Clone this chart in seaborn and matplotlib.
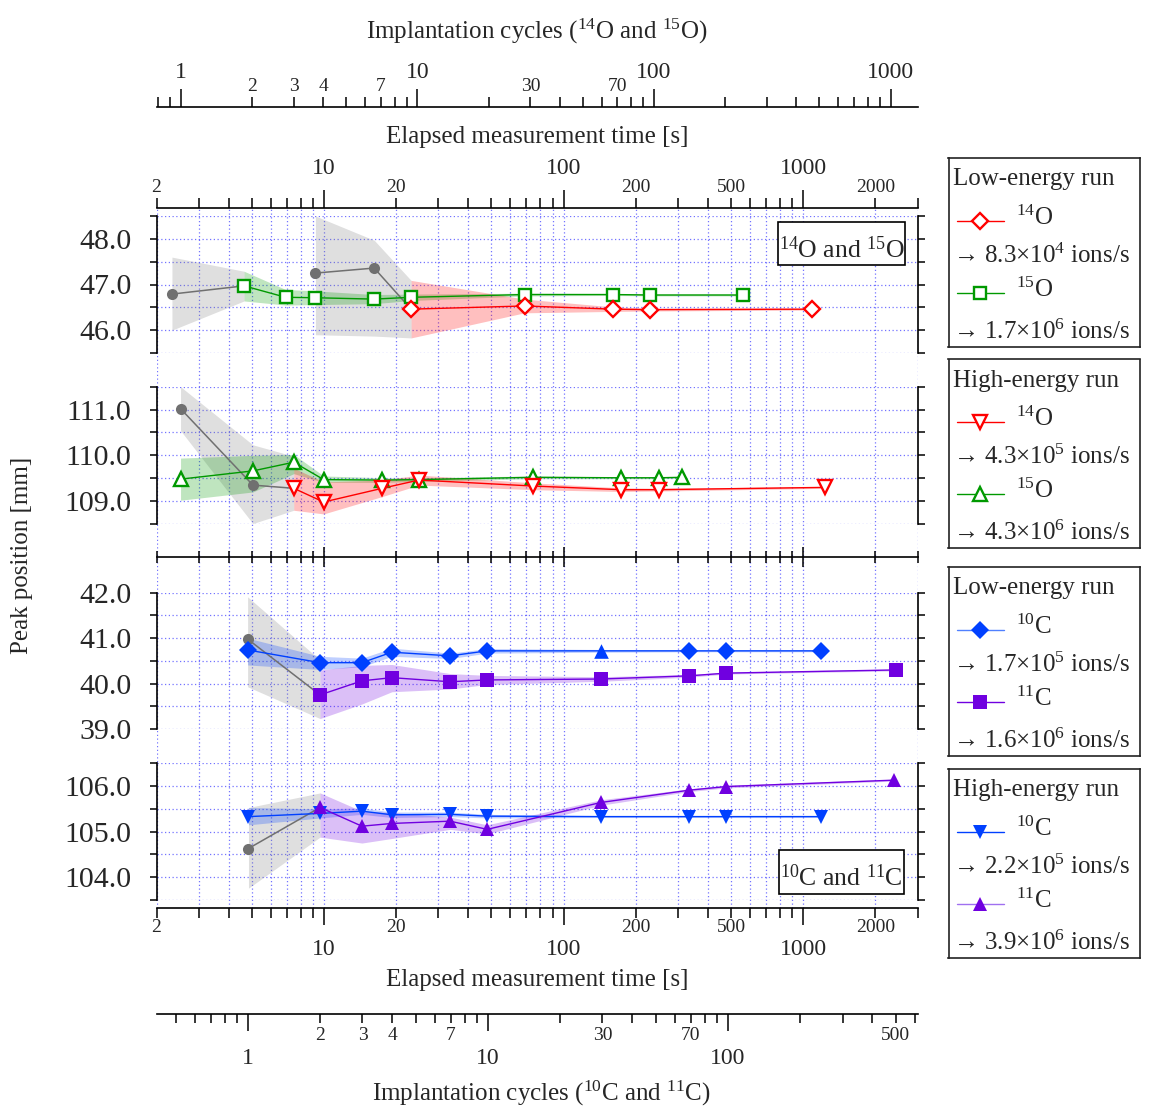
import numpy as np
import matplotlib
matplotlib.use("Agg")
import matplotlib.pyplot as plt
import seaborn as sns
from matplotlib.ticker import LogLocator, MultipleLocator, FormatStrFormatter, FuncFormatter
from matplotlib.patches import Rectangle

# ---------------- data ----------------
# Panel 1 : 14O / 15O, low-energy run
o15_low_t  = [4.64, 6.92, 9.21, 16.2, 23.1, 68.7, 161, 229, 562]
o15_low_y  = [46.97, 46.72, 46.71, 46.68, 46.72, 46.78, 46.78, 46.77, 46.77]
o15_low_lo = [46.64, 46.55, 46.56, 46.58, 46.65, 46.75, 46.76, 46.75, 46.75]
o15_low_hi = [47.29, 46.89, 46.86, 46.78, 46.79, 46.81, 46.80, 46.79, 46.79]

o14_low_t  = [23.1, 68.7, 161, 229, 1084]
o14_low_y  = [46.46, 46.53, 46.46, 46.45, 46.46]
o14_low_lo = [45.83, 46.38, 46.41, 46.42, 46.44]
o14_low_hi = [47.09, 46.68, 46.51, 46.48, 46.48]

g15_low_t  = [2.32, 4.64]
g15_low_y  = [46.79, 46.97]
g15_low_lo = [46.00, 46.64]
g15_low_hi = [47.60, 47.29]

g14_low_t  = [9.21, 16.2, 23.1]
g14_low_y  = [47.25, 47.36, 46.46]
g14_low_lo = [45.90, 45.87, 45.83]
g14_low_hi = [48.50, 47.97, 47.09]

# Panel 2 : 14O / 15O, high-energy run
o15_high_t  = [2.52, 5.05, 7.48, 9.97, 17.5, 24.9, 74.3, 173, 249, 311]
o15_high_y  = [109.48, 109.66, 109.85, 109.47, 109.46, 109.47, 109.52, 109.51, 109.51, 109.52]
o15_high_lo = [109.02, 109.20, 109.60, 109.41, 109.41, 109.43, 109.49, 109.49, 109.49, 109.50]
o15_high_hi = [109.94, 110.00, 110.02, 109.55, 109.51, 109.51, 109.55, 109.53, 109.53, 109.54]

o14_high_t  = [7.48, 9.97, 17.5, 24.9, 74.3, 173, 249, 1239]
o14_high_y  = [109.28, 108.98, 109.28, 109.46, 109.33, 109.25, 109.25, 109.30]
o14_high_lo = [108.80, 108.72, 109.10, 109.35, 109.25, 109.21, 109.22, 109.28]
o14_high_hi = [109.72, 109.42, 109.46, 109.57, 109.40, 109.29, 109.28, 109.32]

g14_high_t  = [2.52, 5.05, 7.48]
g14_high_y  = [111.02, 109.35, 109.28]
g14_high_lo = [110.54, 108.51, 108.80]
g14_high_hi = [111.50, 110.23, 109.98]

# Panel 3 : 10C / 11C, low-energy run
c10_low_t  = [4.80, 9.63, 14.4, 19.2, 33.6, 48.0, 143, 334, 478, 1188]
c10_low_y  = [40.74, 40.46, 40.46, 40.69, 40.61, 40.72, 40.72, 40.72, 40.72, 40.72]
c10_low_lo = [40.41, 40.31, 40.37, 40.60, 40.55, 40.67, 40.69, 40.70, 40.70, 40.70]
c10_low_hi = [41.00, 40.60, 40.56, 40.78, 40.67, 40.77, 40.75, 40.74, 40.74, 40.74]

c11_low_t  = [9.63, 14.4, 19.2, 33.6, 48.0, 143, 334, 478, 2450]
c11_low_y  = [39.75, 40.06, 40.13, 40.04, 40.08, 40.10, 40.17, 40.23, 40.30]
c11_low_lo = [39.23, 39.55, 39.82, 39.88, 39.98, 40.05, 40.14, 40.21, 40.28]
c11_low_hi = [40.30, 40.40, 40.42, 40.22, 40.18, 40.15, 40.20, 40.25, 40.32]

g11_low_t  = [4.80, 9.63]
g11_low_y  = [40.98, 39.75]
g11_low_lo = [39.93, 39.23]
g11_low_hi = [41.91, 40.52]

# Panel 4 : 10C / 11C, high-energy run
c10_high_t  = [4.84, 9.63, 14.4, 19.2, 33.6, 48.0, 143, 334, 478, 1188]
c10_high_y  = [105.33, 105.40, 105.45, 105.37, 105.38, 105.34, 105.33, 105.33, 105.33, 105.33]
c10_high_lo = [105.15, 105.30, 105.38, 105.31, 105.33, 105.30, 105.31, 105.31, 105.31, 105.31]
c10_high_hi = [105.53, 105.50, 105.52, 105.43, 105.43, 105.38, 105.35, 105.35, 105.35, 105.35]

c11_high_t  = [9.63, 14.4, 19.2, 33.6, 48.0, 143, 334, 478, 2388]
c11_high_y  = [105.53, 105.12, 105.18, 105.23, 105.05, 105.64, 105.91, 105.99, 106.13]
c11_high_lo = [104.88, 104.75, 104.85, 105.05, 104.95, 105.58, 105.88, 105.96, 106.11]
c11_high_hi = [105.85, 105.45, 105.42, 105.32, 105.15, 105.70, 105.94, 106.02, 106.15]

g11_high_t  = [4.84, 9.63]
g11_high_y  = [104.63, 105.53]
g11_high_lo = [103.76, 104.88]
g11_high_hi = [105.53, 105.85]

panel_ylims = [(45.5, 48.5), (108.5, 111.5), (39.0, 42.0), (103.5, 106.5)]
time_minor_labels = [2, 20, 200, 500, 2000]
o_cycle_minor_labels = [2, 3, 4, 7, 30, 70]
c_cycle_minor_labels = [2, 3, 4, 7, 30, 70, 500]

legend_titles = ["Low-energy run", "High-energy run", "Low-energy run", "High-energy run"]
legend_names = [[r"$^{14}$O", r"$^{15}$O"], [r"$^{14}$O", r"$^{15}$O"],
                [r"$^{10}$C", r"$^{11}$C"], [r"$^{10}$C", r"$^{11}$C"]]
legend_rates = [["→ 8.3×10$^{4}$ ions/s", "→ 1.7×10$^{6}$ ions/s"],
                ["→ 4.3×10$^{5}$ ions/s", "→ 4.3×10$^{6}$ ions/s"],
                ["→ 1.7×10$^{5}$ ions/s", "→ 1.6×10$^{6}$ ions/s"],
                ["→ 2.2×10$^{5}$ ions/s", "→ 3.9×10$^{6}$ ions/s"]]

# ---------------- style ----------------
sns.set_theme(style="white")
plt.rcParams["font.family"] = ["Liberation Serif", "DejaVu Serif"]
plt.rcParams["mathtext.fontset"] = "custom"
plt.rcParams["mathtext.rm"] = "Liberation Serif"
plt.rcParams["mathtext.it"] = "Liberation Serif:italic"
plt.rcParams["mathtext.bf"] = "Liberation Serif:bold"
plt.rcParams["mathtext.sf"] = "Liberation Serif"
plt.rcParams["axes.unicode_minus"] = False

RED, GREEN, GRAY = "#FF0000", "#009900", "#707070"
BLUE, PURPLE = "#0040FF", "#7000E0"
BAND_A = 0.25
GRID = dict(color="#5a5aff", linestyle=(0, (1, 2)), linewidth=0.9, alpha=0.85)

W_PX, H_PX = 1152, 1111
fig = plt.figure(figsize=(W_PX / 100, H_PX / 100), dpi=100)
fig.patch.set_facecolor("white")


def fx(x):
    return x / W_PX


def fy(y):
    return 1 - y / H_PX


L, R = 156.5, 917.5
AW = (R - L) / W_PX
T_LIM = (2, 3000)
O_CYC_LIM = (0.788, 1300)
C_CYC_LIM = (0.416, 616)

MAJ_FS, MIN_FS = 17, 14

# background axes carrying the vertical grid
bg = fig.add_axes([fx(L), fy(907.7), AW, (907.7 - 208) / H_PX])
bg.set_xscale("log")
bg.set_xlim(T_LIM)
bg.set_ylim(0, 1)
bg.xaxis.set_major_locator(LogLocator(10, numticks=20))
bg.xaxis.set_minor_locator(LogLocator(10, subs=np.arange(2, 10) * 1.0, numticks=20))
bg.tick_params(which="both", bottom=False, top=False, left=False,
               labelbottom=False, labelleft=False)
bg.set_yticks([])
for s in bg.spines.values():
    s.set_visible(False)
bg.xaxis.grid(True, which="both", **GRID)
bg.set_zorder(0)


def minor_fmt(labels):
    def f(v, pos):
        for m in labels:
            if abs(v - m) / m < 1e-6:
                return f"{m:g}"
        return ""
    return FuncFormatter(f)


def axis_line(y_px, xlim, side, minor_labels, maj_len, min_len, maj_pad, min_pad,
              direction="out", labels=True):
    ax = fig.add_axes([fx(L), fy(y_px), AW, 1e-5])
    ax.set_xscale("log")
    ax.set_xlim(xlim)
    ax.set_yticks([])
    ax.patch.set_visible(False)
    for s in ax.spines.values():
        s.set_visible(False)
    ax.spines[side].set_visible(True)
    ax.spines[side].set_linewidth(1.2)
    ax.spines[side].set_color("black")
    ax.xaxis.set_ticks_position(side)
    ax.xaxis.set_major_locator(LogLocator(10, numticks=20))
    ax.xaxis.set_minor_locator(LogLocator(10, subs=np.arange(2, 10) * 1.0, numticks=20))
    ax.xaxis.set_major_formatter(FuncFormatter(lambda v, p: f"{v:g}"))
    ax.xaxis.set_minor_formatter(minor_fmt(minor_labels))
    lab = dict(labeltop=labels, labelbottom=False) if side == "top" else dict(labelbottom=labels, labeltop=False)
    ax.tick_params(axis="x", which="major", direction=direction, length=maj_len, width=1.1,
                   pad=maj_pad, labelsize=MAJ_FS, color="black", **lab)
    ax.tick_params(axis="x", which="minor", direction=direction, length=min_len, width=1.1,
                   pad=min_pad, labelsize=MIN_FS, color="black", **lab)
    return ax


# top: implantation cycles (O) and elapsed time
axis_line(106.7, O_CYC_LIM, "top", o_cycle_minor_labels, 13, 7, 4, 1.5)
axis_line(208, T_LIM, "top", time_minor_labels, 13, 7, 8, 1.5)
# middle separator axis
axis_line(557, T_LIM, "bottom", [], 14, 9, 2, 2, direction="inout", labels=False)
# bottom: elapsed time and implantation cycles (C)
axis_line(907.7, T_LIM, "bottom", time_minor_labels, 12.5, 7, 10, 1)
axis_line(1014, C_CYC_LIM, "bottom", c_cycle_minor_labels, 12.5, 6.5, 12, 3)

# axis titles
fig.text(fx(537), fy(39), r"Implantation cycles ($^{14}$O and $^{15}$O)", ha="center",
         va="baseline", fontsize=18)
fig.text(fx(537), fy(143), "Elapsed measurement time [s]", ha="center", va="baseline", fontsize=18)
fig.text(fx(537), fy(986), "Elapsed measurement time [s]", ha="center", va="baseline", fontsize=18)
fig.text(fx(541), fy(1101), r"Implantation cycles ($^{10}$C and $^{11}$C)", ha="center",
         va="baseline", fontsize=18)
fig.text(fx(22), fy(555), "Peak position [mm]", ha="center", va="center", rotation=90, fontsize=18)

# ---------------- panels ----------------
panel_px = [(216, 353), (386.7, 524), (592.7, 729), (763.3, 900)]
axes = []
for (y0, y1), ylim in zip(panel_px, panel_ylims):
    ax = fig.add_axes([fx(L), fy(y1), AW, (y1 - y0) / H_PX])
    ax.set_facecolor("none")
    ax.set_zorder(2)
    ax.set_xscale("log")
    ax.set_xlim(T_LIM)
    ax.set_ylim(ylim)
    ax.yaxis.set_major_locator(MultipleLocator(1.0))
    ax.yaxis.set_minor_locator(MultipleLocator(0.5))
    ax.yaxis.set_major_formatter(FormatStrFormatter("%.1f"))
    ax.tick_params(axis="x", which="both", bottom=False, top=False, labelbottom=False)
    ax.tick_params(axis="y", which="both", left=True, right=True, labelleft=True,
                   labelright=False, direction="out", length=5, width=1.1, color="black")
    ax.tick_params(axis="y", which="major", labelsize=21.5, pad=13)
    for s in ("top", "bottom"):
        ax.spines[s].set_visible(False)
    for s in ("left", "right"):
        ax.spines[s].set_visible(True)
        ax.spines[s].set_linewidth(1.2)
        ax.spines[s].set_color("black")
    ax.yaxis.grid(True, which="both", **GRID)
    ax.xaxis.grid(False)
    axes.append(ax)


def band(ax, t, lo, hi, color, z=1):
    ax.fill_between(t, lo, hi, color=color, alpha=BAND_A, linewidth=0, zorder=z)


def series(ax, t, y, color, marker, ms, mfc, mew=1.7, lw=1.0, markevery=None, z=4):
    sns.lineplot(x=t, y=y, ax=ax, color=color, marker=marker, markersize=ms,
                 markerfacecolor=mfc, markeredgecolor=color, markeredgewidth=mew,
                 linewidth=lw, estimator=None, sort=False, markevery=markevery,
                 zorder=z, legend=False)


def gray_series(ax, t, y):
    series(ax, t, y, GRAY, "o", 8, GRAY, mew=0, lw=1.1,
           markevery=list(range(len(t) - 1)), z=3)


# marker styles
MS_D_OPEN, MS_S_OPEN, MS_T = 8.2, 8.0, 10.5
MS_D_FILL, MS_S_FILL = 9.5, 9.5

# panel 1
ax = axes[0]
band(ax, g15_low_t, g15_low_lo, g15_low_hi, "gray")
band(ax, g14_low_t, g14_low_lo, g14_low_hi, "gray")
band(ax, o15_low_t, o15_low_lo, o15_low_hi, GREEN)
band(ax, o14_low_t, o14_low_lo, o14_low_hi, RED)
gray_series(ax, g15_low_t, g15_low_y)
gray_series(ax, g14_low_t, g14_low_y)
series(ax, o15_low_t, o15_low_y, GREEN, "s", MS_S_OPEN, "white")
series(ax, o14_low_t, o14_low_y, RED, "D", MS_D_OPEN, "white")

# panel 2
ax = axes[1]
band(ax, g14_high_t, g14_high_lo, g14_high_hi, "gray")
band(ax, o15_high_t, o15_high_lo, o15_high_hi, GREEN)
band(ax, o14_high_t, o14_high_lo, o14_high_hi, RED)
gray_series(ax, g14_high_t, g14_high_y)
series(ax, o15_high_t, o15_high_y, GREEN, "^", MS_T, "white")
series(ax, o14_high_t, o14_high_y, RED, "v", MS_T, "white")

# panel 3
ax = axes[2]
band(ax, g11_low_t, g11_low_lo, g11_low_hi, "gray")
band(ax, c10_low_t, c10_low_lo, c10_low_hi, BLUE)
band(ax, c11_low_t, c11_low_lo, c11_low_hi, PURPLE)
gray_series(ax, g11_low_t, g11_low_y)
series(ax, c11_low_t, c11_low_y, PURPLE, "s", MS_S_FILL, PURPLE, mew=0)
series(ax, c10_low_t, c10_low_y, BLUE, "D", MS_D_FILL, BLUE, mew=0,
       markevery=[i for i in range(len(c10_low_t)) if i != 6])
sns.scatterplot(x=[c10_low_t[6]], y=[c10_low_y[6]], ax=ax, marker="^", s=MS_T ** 2,
                color=BLUE, edgecolor=BLUE, linewidth=0, zorder=5, legend=False)

# panel 4
ax = axes[3]
band(ax, g11_high_t, g11_high_lo, g11_high_hi, "gray")
band(ax, c10_high_t, c10_high_lo, c10_high_hi, BLUE)
band(ax, c11_high_t, c11_high_lo, c11_high_hi, PURPLE)
gray_series(ax, g11_high_t, g11_high_y)
series(ax, c10_high_t, c10_high_y, BLUE, "v", MS_T, BLUE, mew=0)
series(ax, c11_high_t, c11_high_y, PURPLE, "^", MS_T, PURPLE, mew=0)

for ax in axes:
    ax.set_xlabel("")
    ax.set_ylabel("")

# boxed labels inside panels
for (x0, y0, x1, y1, txt) in [(778, 222, 905, 265, r"$^{14}$O and $^{15}$O"),
                               (779, 850, 904, 894, r"$^{10}$C and $^{11}$C")]:
    fig.add_artist(Rectangle((fx(x0), fy(y1)), (x1 - x0) / W_PX, (y1 - y0) / H_PX,
                             transform=fig.transFigure, facecolor="white",
                             edgecolor="black", linewidth=1.2, zorder=10))
    fig.text(fx((x0 + x1) / 2), fy(y0 + 36), txt, ha="center", va="baseline",
             fontsize=18.5, zorder=11)

# ---------------- legends ----------------
legend_styles = [
    [(RED, "D", MS_D_OPEN, "white", 1.7), (GREEN, "s", MS_S_OPEN, "white", 1.7)],
    [(RED, "v", MS_T, "white", 1.7), (GREEN, "^", MS_T, "white", 1.7)],
    [(BLUE, "D", MS_D_FILL, BLUE, 0), (PURPLE, "s", MS_S_FILL, PURPLE, 0)],
    [(BLUE, "v", MS_T, BLUE, 0), (PURPLE, "^", MS_T, PURPLE, 0)],
]
legend_line_colors = [[RED, GREEN], [RED, GREEN], ["#5080FF", PURPLE], [BLUE, "#A070F0"]]
box_tops = [158, 359.5, 567, 769]
BX0, BX1, BH = 948.5, 1140, 188.5
for k, top in enumerate(box_tops):
    lax = fig.add_axes([fx(BX0), fy(top + BH), (BX1 - BX0) / W_PX, BH / H_PX])
    lax.set_xlim(BX0, BX1)
    lax.set_ylim(top + BH, top)
    lax.set_xticks([])
    lax.set_yticks([])
    lax.set_facecolor("white")
    for s in lax.spines.values():
        s.set_visible(True)
        s.set_linewidth(1.2)
        s.set_color("#222222")
    lax.text(953.5, top + 27, legend_titles[k], fontsize=18, va="baseline", ha="left")
    for j, my in enumerate([top + 62.5, top + 134.5]):
        col, mk, ms, mfc, mew = legend_styles[k][j]
        lax.plot([957, 1004], [my, my], color=legend_line_colors[k][j], lw=1.0)
        lax.plot([980.5], [my], marker=mk, ms=ms, mfc=mfc, mec=col, mew=mew, ls="none")
        lax.text(1016, my + 4, legend_names[k][j], fontsize=18, va="baseline", ha="left")
        lax.text(953.5, my + 42 + (4 if j == 1 else 0), legend_rates[k][j], fontsize=18,
                 va="baseline", ha="left")

fig.savefig("out.png", dpi=100, facecolor="white")
